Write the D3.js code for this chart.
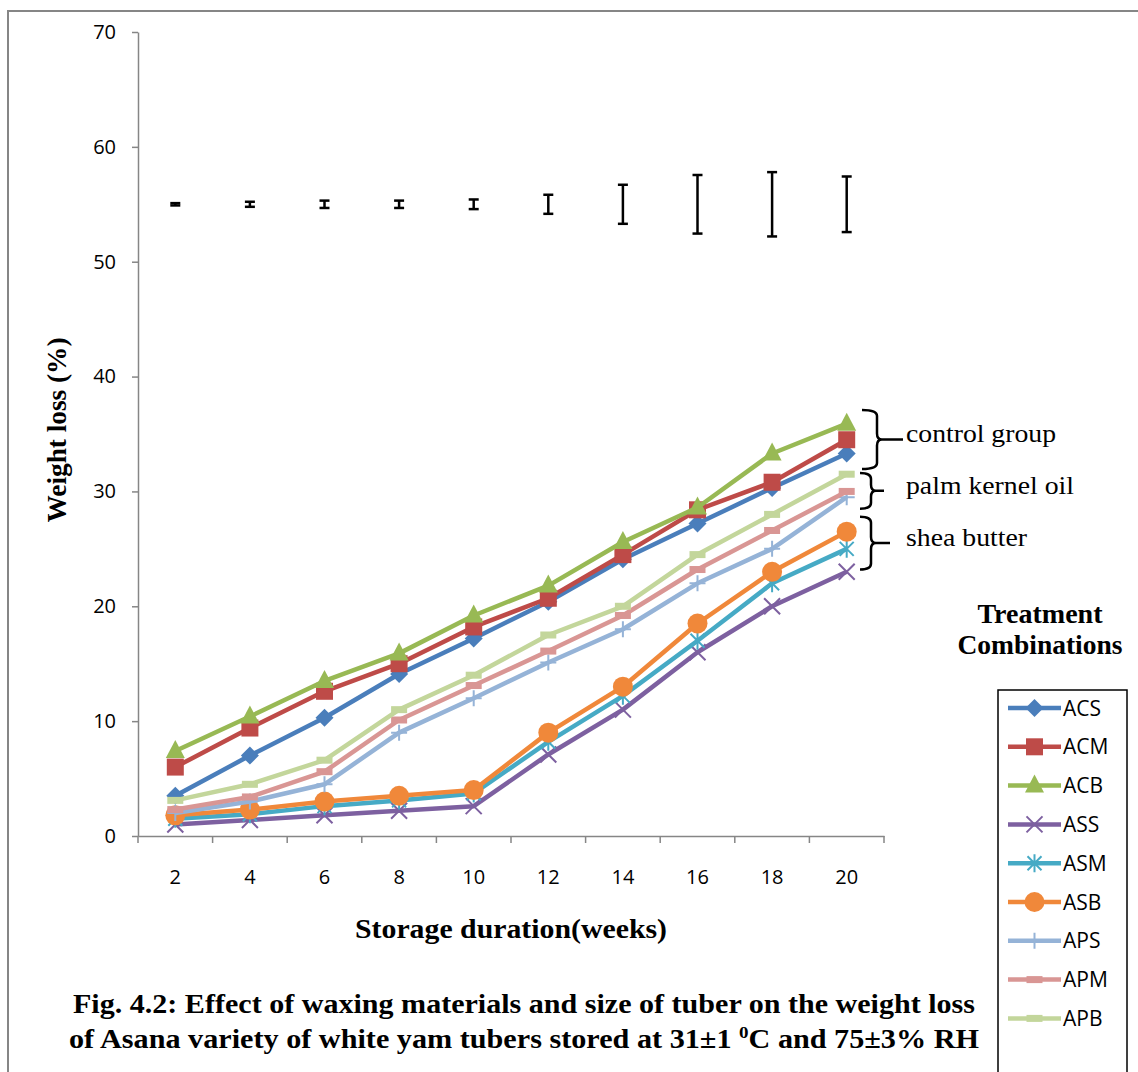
<!DOCTYPE html>
<html>
<head>
<meta charset="utf-8">
<script src="https://cdn.jsdelivr.net/npm/d3@7"></script>
<style>
  html, body { margin: 0; padding: 0; background: #fff; }
  svg { display: block; }
</style>
</head>
<body>
<svg id="chart" width="1138" height="1072"></svg>
<script>
// ---------- DATA ----------
const weeks = [2, 4, 6, 8, 10, 12, 14, 16, 18, 20];
const yTicks = [0, 10, 20, 30, 40, 50, 60, 70];
const seriesNames = ["ACS", "ACM", "ACB", "ASS", "ASM", "ASB", "APS", "APM", "APB"];
const ACS = [3.5, 7.0, 10.3, 14.1, 17.2, 20.4, 24.1, 27.2, 30.3, 33.3];
const ACM = [6.0, 9.4, 12.6, 15.0, 18.2, 20.7, 24.5, 28.4, 30.8, 34.5];
const ACB = [7.4, 10.4, 13.5, 15.9, 19.2, 21.8, 25.6, 28.6, 33.3, 35.9];
const ASS = [1.0, 1.4, 1.8, 2.2, 2.6, 7.1, 11.0, 16.0, 20.0, 23.0];
const ASM = [1.5, 1.9, 2.6, 3.1, 3.7, 8.2, 12.2, 17.0, 22.0, 25.0];
const ASB = [1.8, 2.3, 3.0, 3.5, 4.0, 9.0, 13.0, 18.5, 23.0, 26.5];
const APS = [2.0, 3.0, 4.5, 9.0, 12.0, 15.1, 18.0, 22.0, 25.0, 29.5];
const APM = [2.3, 3.4, 5.6, 10.1, 13.1, 16.1, 19.2, 23.2, 26.6, 30.0];
const APB = [3.1, 4.5, 6.6, 11.0, 14.0, 17.5, 20.0, 24.5, 28.0, 31.5];
const seriesValues = [ACS, ACM, ACB, ASS, ASM, ASB, APS, APM, APB];
// error bars (LSD-style) drawn at 55
const errCenter = [55, 55, 55, 55, 55, 55, 55, 55, 55, 55];
const errHalf = [0.1, 0.22, 0.32, 0.32, 0.42, 0.83, 1.7, 2.55, 2.8, 2.42];
// bracket annotations (value ranges)
const annoLabels = ["control group", "palm kernel oil", "shea butter"];
const annoTop = [37.1, 31.6, 27.8];
const annoBottom = [31.95, 28.5, 23.2];

// ---------- STYLE ----------
const colors = ["#4A7EBB", "#BE4B48", "#98B954", "#7D60A0", "#46AAC5", "#F0883A", "#95B3D7", "#D99694", "#C3D69B"];
const markerTypes = ["diamond", "square", "triangle", "x", "star", "circle", "plus", "dash", "dash"];
const axisColor = "#868686";
const sans = "'Open Sans', 'Noto Sans', sans-serif";
const serif = "'Liberation Serif', 'Times New Roman', serif";

const svg = d3.select("#chart");

// outer frame (open at right and bottom)
svg.append("path")
  .attr("d", "M8,1072 L8,11 L1138,11")
  .attr("fill", "none").attr("stroke", axisColor).attr("stroke-width", 2);

// ---------- SCALES ----------
const x = d3.scaleBand().domain(weeks).range([138, 884]).padding(0);
const cx = d => x(d) + x.bandwidth() / 2;
const y = d3.scaleLinear().domain([0, 70]).range([836, 32]);

// ---------- AXES ----------
const yAxis = svg.append("g").attr("transform", "translate(138,0)")
  .call(d3.axisLeft(y).tickValues(yTicks).tickSize(6).tickPadding(16).tickSizeOuter(0));
yAxis.select(".domain").attr("stroke", axisColor).attr("stroke-width", 1.5);
yAxis.selectAll(".tick line").attr("stroke", axisColor).attr("stroke-width", 1.5);
yAxis.selectAll(".tick text").attr("font-family", sans).attr("font-size", 20).attr("fill", "#000");

const xAxis = svg.append("g").attr("transform", "translate(0,836)")
  .call(d3.axisBottom(x).tickSize(0).tickSizeOuter(0).tickPadding(0));
xAxis.select(".domain").attr("stroke", axisColor).attr("stroke-width", 1.5);
xAxis.selectAll(".tick text").attr("font-family", sans).attr("font-size", 20).attr("fill", "#000")
  .attr("y", 41).attr("dy", "0.35em");
// boundary tick marks between categories
const bounds = weeks.map(w => x(w)).concat([x(weeks[weeks.length - 1]) + x.bandwidth()]);
svg.append("g").selectAll("line").data(bounds).join("line")
  .attr("x1", d => d).attr("x2", d => d).attr("y1", 836).attr("y2", 843)
  .attr("stroke", axisColor).attr("stroke-width", 1.5);

// ---------- MARKERS ----------
function drawMarker(g, type, color) {
  switch (type) {
    case "diamond":
      g.append("path").attr("d", "M0,-9L9,0L0,9L-9,0Z").attr("fill", color);
      break;
    case "square":
      g.append("rect").attr("x", -8.5).attr("y", -8.5).attr("width", 17).attr("height", 17).attr("fill", color);
      break;
    case "triangle":
      g.append("path").attr("d", "M0,-11L9.5,7L-9.5,7Z").attr("fill", color);
      break;
    case "circle":
      g.append("circle").attr("r", 10).attr("fill", color);
      break;
    case "x":
      g.append("path").attr("d", "M-8,-8L8,8M-8,8L8,-8").attr("stroke", color).attr("stroke-width", 2).attr("fill", "none");
      break;
    case "star":
      g.append("path").attr("d", "M-7,-7L7,7M-7,7L7,-7M0,-9L0,9").attr("stroke", color).attr("stroke-width", 2).attr("fill", "none");
      break;
    case "plus":
      g.append("path").attr("d", "M-8,0L8,0M0,-8L0,8").attr("stroke", color).attr("stroke-width", 2).attr("fill", "none");
      break;
    case "dash":
      g.append("rect").attr("x", -8).attr("y", -3.5).attr("width", 16).attr("height", 7).attr("fill", color);
      break;
  }
}

// ---------- SERIES ----------
const line = d3.line().x((d, i) => cx(weeks[i])).y(d => y(d));
const plot = svg.append("g");
seriesValues.forEach((vals, si) => {
  const g = plot.append("g");
  g.append("path").datum(vals).attr("d", line)
    .attr("fill", "none").attr("stroke", colors[si]).attr("stroke-width", 4.5)
    .attr("stroke-linejoin", "round");
  vals.forEach((v, i) => {
    const m = g.append("g").attr("transform", `translate(${cx(weeks[i])},${y(v)})`);
    drawMarker(m, markerTypes[si], colors[si]);
  });
});

// ---------- ERROR BARS ----------
const eb = svg.append("g").attr("stroke", "#000").attr("stroke-width", 2.5);
weeks.forEach((w, i) => {
  const xc = cx(w), y0 = y(errCenter[i] - errHalf[i]), y1 = y(errCenter[i] + errHalf[i]);
  eb.append("line").attr("x1", xc).attr("x2", xc).attr("y1", y0).attr("y2", y1);
  eb.append("line").attr("x1", xc - 5).attr("x2", xc + 5).attr("y1", y0).attr("y2", y0);
  eb.append("line").attr("x1", xc - 5).attr("x2", xc + 5).attr("y1", y1).attr("y2", y1);
});

// ---------- BRACES + LABELS ----------
const braceX0 = [862, 860, 860];
const braceW = [15, 11, 11];
const braceTip = [26, 13, 19];
const labelW = [150, 168, 121];
annoLabels.forEach((lab, i) => {
  const yt = y(annoTop[i]), yb = y(annoBottom[i]), ym = (yt + yb) / 2;
  const x0 = braceX0[i], x1 = x0 + braceW[i], x2 = x1 + braceTip[i];
  const r = 6;
  const d = `M${x0},${yt} Q${x1},${yt} ${x1},${yt + r} L${x1},${ym - r} Q${x1},${ym} ${x1 + 5},${ym} L${x2},${ym}` +
            ` M${x1 + 5},${ym} Q${x1},${ym} ${x1},${ym + r} L${x1},${yb - r} Q${x1},${yb} ${x0},${yb}`;
  svg.append("path").attr("d", d).attr("fill", "none").attr("stroke", "#000").attr("stroke-width", 2.5);
  svg.append("text").attr("x", 906).attr("y", ym + 3)
    .attr("font-family", serif).attr("font-size", 26).attr("fill", "#000")
    .attr("textLength", labelW[i]).attr("lengthAdjust", "spacingAndGlyphs")
    .text(lab);
});

// ---------- LEGEND ----------
svg.append("text").attr("x", 1040).attr("y", 623).attr("text-anchor", "middle")
  .attr("font-family", serif).attr("font-weight", "bold").attr("font-size", 27)
  .attr("textLength", 125).attr("lengthAdjust", "spacingAndGlyphs").text("Treatment");
svg.append("text").attr("x", 1040).attr("y", 654).attr("text-anchor", "middle")
  .attr("font-family", serif).attr("font-weight", "bold").attr("font-size", 27)
  .attr("textLength", 165).attr("lengthAdjust", "spacingAndGlyphs").text("Combinations");

svg.append("rect").attr("x", 998).attr("y", 690).attr("width", 129).attr("height", 420)
  .attr("fill", "none").attr("stroke", "#000").attr("stroke-width", 1.5);
const leg = svg.append("g");
seriesNames.forEach((name, i) => {
  const ly = 708 + i * 38.8;
  const g = leg.append("g");
  g.append("line").attr("x1", 1008).attr("x2", 1061).attr("y1", ly).attr("y2", ly)
    .attr("stroke", colors[i]).attr("stroke-width", 4.5);
  const m = g.append("g").attr("transform", `translate(1034.5,${ly})`);
  drawMarker(m, markerTypes[i], colors[i]);
  g.append("text").attr("x", 1063).attr("y", ly).attr("dy", "0.36em")
    .attr("font-family", sans).attr("font-size", 21).attr("fill", "#000").text(name);
});

// ---------- TITLES ----------
svg.append("text").attr("transform", "translate(66,430) rotate(-90)").attr("text-anchor", "middle")
  .attr("font-family", serif).attr("font-weight", "bold").attr("font-size", 28)
  .attr("textLength", 185).attr("lengthAdjust", "spacingAndGlyphs").text("Weight loss (%)");
svg.append("text").attr("x", 511).attr("y", 938).attr("text-anchor", "middle")
  .attr("font-family", serif).attr("font-weight", "bold").attr("font-size", 28)
  .attr("textLength", 312).attr("lengthAdjust", "spacingAndGlyphs").text("Storage duration(weeks)");

svg.append("text").attr("x", 524).attr("y", 1013).attr("text-anchor", "middle")
  .attr("font-family", serif).attr("font-weight", "bold").attr("font-size", 27)
  .attr("textLength", 902).attr("lengthAdjust", "spacingAndGlyphs")
  .text("Fig. 4.2: Effect of waxing materials and size of tuber on the weight loss");
const cap2 = svg.append("text").attr("x", 524).attr("y", 1048).attr("text-anchor", "middle")
  .attr("font-family", serif).attr("font-weight", "bold").attr("font-size", 27)
  .attr("textLength", 910).attr("lengthAdjust", "spacingAndGlyphs");
cap2.append("tspan").text("of Asana variety of white yam tubers stored at 31±1 ");
cap2.append("tspan").attr("dy", -10).attr("font-size", 17).text("0");
cap2.append("tspan").attr("dy", 10).text("C and 75±3% RH");
</script>
</body>
</html>
